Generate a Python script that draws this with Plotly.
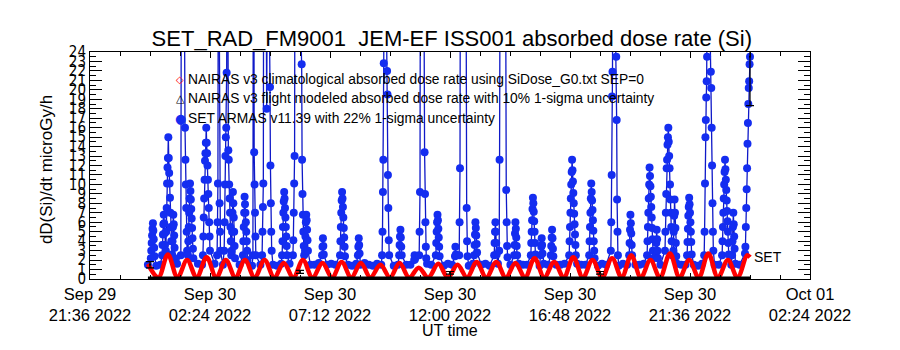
import pandas as pd
import plotly.graph_objects as go

# ---------------- data (times in minutes after 2022-09-30 00:00 UT) ----------------
T0 = pd.Timestamp("2022-09-30 00:00")

# SET ARMAS baseline samples (10-min cadence from 23:55 Sep 29)
armas_base_start = -5
armas_base_step = 10
armas_base_vals = [
    1.5, 1.6, 1.4, 1.5, 1.7, 1.5, 1.4, 1.6, 1.5, 1.5, 1.7, 1.4,
    1.6, 1.5, 1.5, 1.4, 1.6, 1.7, 1.5, 1.5, 1.4, 1.6, 1.5, 1.6,
    1.5, 1.4, 1.6, 1.5, 1.7, 1.5, 1.5, 1.4, 1.6, 1.5, 1.6, 1.5,
    1.4, 1.5, 1.6, 1.5, 1.5, 1.7, 1.4, 1.5, 1.6, 1.5, 1.5, 1.6,
    1.5, 1.4, 1.6, 1.5, 1.7, 1.5, 1.4, 1.6, 1.5, 1.5, 1.6, 1.4,
    1.5, 1.6, 1.5, 1.5, 1.7, 1.5, 1.4, 1.6, 1.5, 1.6, 1.5, 1.4,
    1.6, 1.5, 1.5, 1.7, 1.5, 1.4, 1.6, 1.5, 1.5, 1.6, 1.4, 1.5,
    1.6, 1.5, 1.7, 1.5, 1.4, 1.6, 1.5, 1.5, 1.6, 1.5, 1.4, 1.6,
    1.5, 1.7, 1.5, 1.5, 1.6, 1.4, 1.5, 1.6, 1.5, 1.5, 1.7, 1.5,
    1.4, 1.6, 1.5, 1.6, 1.5, 1.4, 1.6, 1.5, 1.7, 1.5, 1.5, 1.6,
    1.4, 1.5, 1.6, 1.5, 1.5, 1.7, 1.4, 1.6, 1.5, 1.5, 1.6, 1.5,
    1.4, 1.6, 1.5, 1.7, 1.5, 1.5, 1.6, 1.4, 1.5, 1.6, 1.5,
]

# SET ARMAS enhancement passes: start minute and 1-min samples
armas_spike_start = [
    2, 29, 38, 53, 74, 91, 127, 161, 178, 196, 223, 247, 269, 317, 343, 372,
    413, 456, 499, 557, 598, 634, 646, 686, 732, 742, 778, 826, 838, 874, 914,
    938, 962, 1006, 1054, 1106, 1150, 1193, 1214, 1236, 1256, 1289, 1330, 1373,
    1397, 1428,
]
armas_spike_vals = [
    [2.2, 3.0, 3.8, 4.6, 5.3, 5.9, 5.1, 4.2, 3.3, 2.4],
    [2.5, 3.6, 4.7, 5.8, 6.8, 5.9, 4.8, 3.6],
    [3.0, 5.0, 7.5, 10.1, 11.8, 12.8, 15.0, 12.8, 11.2, 10.1, 8.6, 7.0, 5.5, 4.0, 2.6],
    [2.5, 4.0, 5.5, 6.8, 5.8, 4.6, 3.3, 2.2],
    [2.5, 30, 45, 50, 48, 40, 35, 30, 28, 26, 16.0, 12.6, 10.0, 7.5, 5.0, 3.0],
    [2.5, 4.0, 5.5, 7.0, 8.5, 10.1, 9.3, 8.4, 7.4, 6.4, 5.4, 4.3, 3.2, 2.2],
    [2.5, 4.5, 6.5, 8.5, 10.5, 12.5, 13.3, 14.4, 16.0, 14.4, 13.3, 12.0, 10.5, 9.0, 7.5, 6.0, 4.5, 3.0],
    [2.5, 6.0, 10.1, 40, 45, 30, 8.0, 5.0, 3.0],
    [3.0, 6.0, 10.0, 13.0, 15.0, 16.0, 21.8, 40, 50, 30, 13.6, 12.6, 10.0, 8.5, 7.0, 5.5, 4.0, 2.5],
    [3.0, 5.0, 7.0, 9.2, 8.0, 6.5, 5.0, 3.5, 2.2],
    [2.5, 4.0, 5.5, 7.0, 8.7, 7.9, 7.0, 6.0, 5.0, 4.0, 3.0, 2.0],
    [2.5, 40, 45, 13.4, 10.0, 7.0, 4.5, 2.5],
    [2.5, 5.0, 7.6, 10.1, 45, 50, 48, 45, 40, 35, 30, 18, 30, 40, 45, 40, 35, 30, 27, 20.3, 12.0, 8.0, 5.0, 3.0],
    [2.5, 4.0, 5.5, 7.0, 8.2, 9.2, 8.5, 7.5, 6.5, 5.5, 4.5, 3.5, 2.5],
    [2.5, 4.1, 7.0, 10.1, 13.0, 40, 50, 48, 46, 44, 42, 40, 38, 36, 34, 32, 30, 28, 27, 26, 25, 22.7, 12.6, 9.0, 6.8, 5.0, 3.5, 2.5],
    [3.0, 4.5, 6.0, 6.8, 6.2, 5.2, 4.1, 3.0],
    [2.5, 3.4, 4.3, 3.5, 2.6],
    [2.5, 4.0, 5.5, 7.0, 8.3, 9.2, 8.5, 7.6, 6.5, 5.4, 4.4, 3.4, 2.4],
    [2.5, 3.4, 4.3, 3.6, 2.7],
    [2.5, 5.0, 9.2, 12.6, 22.8, 40, 50, 45, 40, 35, 30, 25, 22.0, 19.5, 11.0, 7.5, 4.1, 2.5],
    [2.5, 3.6, 4.5, 5.2, 4.4, 3.4, 2.5],
    [2.0, 2.5, 2.1],
    [2.5, 5.0, 9.2, 40, 50, 45, 40, 35, 32, 30, 28, 26, 25, 13.4, 9.0, 6.0, 3.4, 2.2],
    [2.5, 3.8, 5.0, 6.0, 6.8, 6.2, 5.3, 4.4, 3.4, 2.4],
    [2.4, 3.4, 2.6],
    [2.5, 6.0, 11.7, 40, 50, 48, 45, 42, 40, 38, 36, 34, 32, 30, 28, 27, 26, 25, 7.5, 4.0, 2.4],
    [2.5, 3.6, 4.7, 6.0, 5.4, 4.6, 3.7, 2.8],
    [2.5, 3.8, 5.0, 6.0, 5.0, 3.8, 2.6],
    [3.0, 12.6, 45, 50, 48, 45, 42, 40, 38, 36, 34, 32, 30, 28, 26, 25, 25, 9.4, 6.0, 3.5, 2.3],
    [2.5, 3.6, 4.8, 6.0, 5.3, 4.4, 3.5, 2.5],
    [2.5, 3.8, 5.0, 6.2, 7.4, 8.6, 8.0, 7.1, 6.1, 5.0, 3.8, 2.6],
    [2.5, 3.4, 4.3, 3.6, 2.7],
    [2.5, 3.5, 4.4, 5.2, 4.3, 3.2, 2.4],
    [2.5, 4.0, 5.5, 7.0, 8.5, 10.0, 11.3, 12.6, 11.5, 10.3, 9.1, 8.0, 6.9, 5.8, 4.7, 3.6, 2.5],
    [2.5, 4.0, 5.5, 7.0, 8.5, 10.1, 9.2, 8.3, 7.3, 6.2, 5.1, 4.0, 3.0, 2.2],
    [3.0, 6.0, 11.0, 19.3, 21.9, 45, 50, 45, 40, 35, 30, 27, 25, 23.5, 16.8, 8.4, 5.0, 2.5],
    [2.5, 3.8, 5.2, 6.8, 5.9, 4.8, 3.6, 2.5],
    [2.5, 4.0, 5.5, 7.0, 8.5, 10.0, 11.8, 10.9, 9.8, 8.7, 7.6, 6.5, 5.4, 4.2, 3.0, 2.2],
    [2.5, 3.8, 5.2, 4.2, 3.0, 2.2],
    [3.0, 5.0, 7.0, 9.0, 11.7, 12.6, 14.2, 15.0, 16.0, 14.5, 13.0, 11.7, 10.0, 8.4, 7.0, 5.5, 4.0, 2.5],
    [3.0, 5.0, 6.7, 8.4, 7.0, 5.4, 3.8, 2.4],
    [2.5, 3.9, 5.3, 6.7, 7.6, 8.6, 7.9, 7.0, 6.0, 5.0, 3.9, 2.6],
    [2.5, 5.0, 10.1, 15.0, 16.8, 19.2, 20.9, 23.5, 40, 50, 45, 40, 35, 30, 27, 25, 21.9, 20.2, 16.0, 12.0, 8.0, 5.0, 3.0],
    [2.5, 4.0, 5.5, 7.0, 8.5, 10.0, 11.3, 12.6, 11.6, 10.5, 9.4, 8.3, 7.2, 6.1, 5.0, 3.8, 2.6],
    [2.5, 4.0, 5.5, 7.0, 5.8, 4.5, 3.2],
    [2.7, 3.4, 5.5, 7.5, 9.5, 11.7, 14.3, 16.5, 18.5, 20.2, 20.9, 22.7, 23.5],
]

# SET ARMAS points drawn with 22% 1-sigma error bars
armas_err_min = [0, 360, 720, 1080, 1440]
armas_err_vals = [1.5, 0.75, 0.65, 0.65, 23.5]
armas_sigma = 0.22

# NAIRAS v3 climatological (orbit-modulated) – turning points
nairas_clim_min = [
    -5, 20, 43, 66, 89, 112, 136, 159, 182, 205, 228, 251, 275, 298, 321, 344,
    367, 390, 414, 437, 460, 483, 506, 529, 553, 576, 599, 622, 645, 668, 692,
    715, 738, 761, 784, 807, 831, 854, 877, 900, 923, 946, 970, 993, 1016, 1039,
    1062, 1085, 1109, 1132, 1155, 1178, 1201, 1224, 1248, 1271, 1294, 1317, 1340,
    1363, 1387, 1410, 1433, 1440,
]
nairas_clim_vals = [
    1.6, 0.15, 2.6, 0.15, 2.0, 0.15, 2.3, 0.15, 2.0, 0.15, 2.0, 0.15, 2.0, 0.15,
    1.7, 0.15, 2.0, 0.15, 1.7, 0.15, 1.8, 0.15, 1.7, 0.15, 1.5, 0.15, 1.7, 0.15,
    1.2, 0.15, 1.6, 0.15, 1.5, 0.15, 1.8, 0.15, 1.8, 0.15, 1.7, 0.15, 2.2, 0.15,
    1.8, 0.15, 2.3, 0.15, 2.0, 0.15, 2.2, 0.15, 2.5, 0.15, 2.0, 0.15, 2.7, 0.15,
    2.0, 0.15, 2.7, 0.15, 2.0, 0.15, 2.5, 2.3,
]

# NAIRAS v3 flight modeled
nairas_flt_min = [-5, 60, 120, 180, 240, 300, 360, 420, 480, 540, 600, 660, 720,
                  780, 840, 900, 960, 1020, 1080, 1140, 1200, 1260, 1320, 1380, 1440]
nairas_flt_vals = [0.08, 0.07, 0.09, 0.08, 0.07, 0.08, 0.09, 0.08, 0.07, 0.08, 0.08,
                   0.09, 0.07, 0.08, 0.08, 0.07, 0.09, 0.08, 0.08, 0.07, 0.08, 0.09,
                   0.08, 0.07, 0.08]

# axis tick labels
x_tick_vals = ["2022-09-29 21:36", "2022-09-30 02:24", "2022-09-30 07:12",
               "2022-09-30 12:00", "2022-09-30 16:48", "2022-09-30 21:36",
               "2022-10-01 02:24"]
x_tick_text = ["Sep 29<br>21:36 2022", "Sep 30<br>02:24 2022", "Sep 30<br>07:12 2022",
               "Sep 30<br>12:00 2022", "Sep 30<br>16:48 2022", "Sep 30<br>21:36 2022",
               "Oct 01<br>02:24 2022"]
y_tick_vals = list(range(0, 25))
y_tick_text = [str(v) for v in y_tick_vals]

legend_labels = [
    "NAIRAS v3 climatological absorbed dose rate using SiDose_G0.txt SEP=0",
    "NAIRAS v3 flight modeled absorbed dose rate with 10% 1-sigma uncertainty",
    "SET ARMAS v11.39 with 22% 1-sigma uncertainty",
]

# ---------------- assemble ----------------
def tm(m):
    return T0 + pd.to_timedelta(m, unit="m")

windows = [(s, s + len(v) - 1) for s, v in zip(armas_spike_start, armas_spike_vals)]
pts = []
for i, v in enumerate(armas_base_vals):
    m = armas_base_start + i * armas_base_step
    if any(a - 1 <= m <= b + 1 for a, b in windows):
        continue
    pts.append((m, v))
for s, vals in zip(armas_spike_start, armas_spike_vals):
    for k, v in enumerate(vals):
        pts.append((s + k, v))
pts.sort(key=lambda p: p[0])
blue_x = [tm(m) for m, _ in pts]
blue_y = [v for _, v in pts]

BLUE_M = "rgb(20,45,240)"
BLUE_L = "rgb(15,25,200)"
RED = "rgb(255,0,0)"

fig = go.Figure()
fig.add_trace(go.Scatter(
    x=blue_x, y=blue_y, mode="lines+markers",
    line=dict(color=BLUE_L, width=1.3),
    marker=dict(symbol="circle", size=8, color=BLUE_M, line=dict(width=0)),
    showlegend=False, hoverinfo="skip"))
fig.add_trace(go.Scatter(
    x=[tm(m) for m in nairas_clim_min], y=nairas_clim_vals, mode="lines",
    line=dict(color=RED, width=4.5, shape="spline", smoothing=1.0),
    showlegend=False, hoverinfo="skip"))
fig.add_trace(go.Scatter(
    x=[tm(m) for m in nairas_flt_min], y=nairas_flt_vals, mode="lines",
    line=dict(color="black", width=3.5),
    showlegend=False, hoverinfo="skip"))
fig.add_trace(go.Scatter(
    x=[tm(m) for m in armas_err_min], y=armas_err_vals, mode="markers",
    marker=dict(size=2, color="black"),
    error_y=dict(type="data", array=[v * armas_sigma for v in armas_err_vals],
                 color="black", thickness=1.2, width=4),
    showlegend=False, hoverinfo="skip"))

FONT = "Liberation Sans, Arial, sans-serif"
NARROW = "Liberation Sans Narrow, DejaVu Sans Condensed, Liberation Sans, sans-serif"

# "SET" label at the end of the climatological curve
fig.add_annotation(x=tm(nairas_clim_min[-1]), y=nairas_clim_vals[-1], text="SET",
                   showarrow=False, xanchor="left", yanchor="middle", xshift=2,
                   font=dict(family=FONT, size=14, color="black"))

# in-plot legend
sym = [("\u25C7", RED, 10), ("\u25B3", "black", 11), ("\u25CF", BLUE_M, 13)]
rows_y = [0.877, 0.793, 0.709]
for (s, c, fs), lab, yy in zip(sym, legend_labels, rows_y):
    fig.add_annotation(xref="paper", yref="paper", x=0.125, y=yy, text=s,
                       showarrow=False, xanchor="center", yanchor="middle",
                       font=dict(family="DejaVu Sans", size=fs, color=c))
    fig.add_annotation(xref="paper", yref="paper", x=0.133, y=yy, text=lab,
                       showarrow=False, xanchor="left", yanchor="middle",
                       font=dict(family=FONT, size=13.8, color="black"))

# axis titles
fig.add_annotation(xref="paper", yref="paper", x=0.5, y=-0.225, text="UT time",
                   showarrow=False, xanchor="center", yanchor="middle",
                   font=dict(family=FONT, size=16, color="black"))
fig.add_annotation(xref="paper", yref="paper", x=-0.061, y=0.48,
                   text="dD(Si)/dt microGy/h", textangle=-90,
                   showarrow=False, xanchor="center", yanchor="middle",
                   font=dict(family=FONT, size=17, color="black"))

minor_x = [pd.Timestamp("2022-09-29 21:36") + pd.Timedelta(minutes=72 * k) for k in range(25)]

fig.update_layout(
    width=900, height=350,
    margin=dict(l=90, r=90, t=52, b=71),
    paper_bgcolor="white", plot_bgcolor="white",
    title=dict(text="SET_RAD_FM9001\u00a0 JEM-EF ISS001 absorbed dose rate (Si)",
               x=0.502, xanchor="center", y=0.891, yanchor="middle",
               font=dict(family=FONT, size=22, color="black")),
    showlegend=False,
)
fig.update_xaxes(
    range=[pd.Timestamp("2022-09-29 21:36"), pd.Timestamp("2022-10-01 02:24")],
    tickmode="array", tickvals=x_tick_vals, ticktext=x_tick_text,
    ticks="inside", ticklen=6, tickcolor="black", tickwidth=1,
    minor=dict(tickmode="array", tickvals=minor_x, ticks="inside", ticklen=4,
               tickcolor="black", showgrid=False),
    showline=True, linecolor="black", linewidth=1, mirror="ticks",
    showgrid=False, zeroline=False,
    tickfont=dict(family=FONT, size=16.5, color="black"),
)
fig.update_yaxes(
    range=[0, 24],
    tickmode="array", tickvals=y_tick_vals, ticktext=y_tick_text,
    ticks="inside", ticklen=12, tickcolor="black", tickwidth=1,
    minor=dict(tickmode="linear", tick0=0.5, dtick=1, ticks="inside", ticklen=6,
               tickcolor="black", showgrid=False),
    showline=True, linecolor="black", linewidth=1, mirror="ticks",
    showgrid=False, zeroline=False,
    tickfont=dict(family=NARROW, size=15, color="black"),
)

fig.write_html("out.html")
